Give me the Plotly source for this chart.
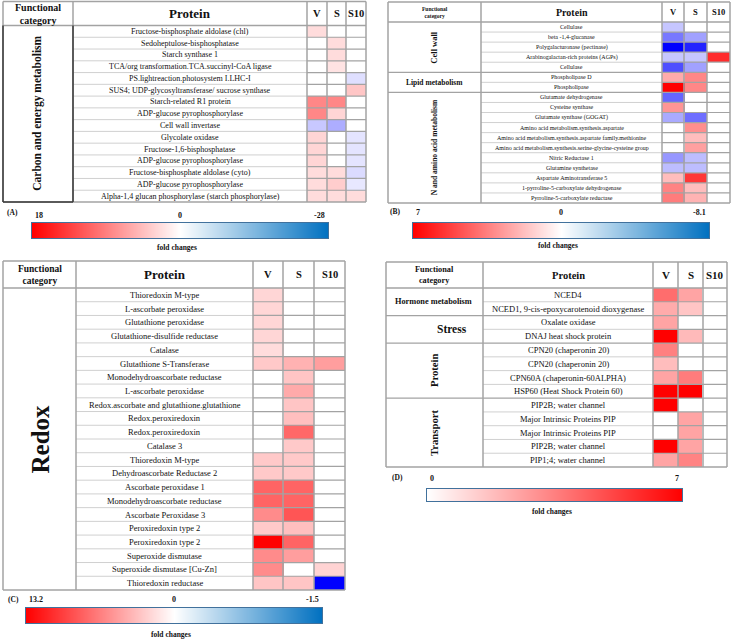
import plotly.graph_objects as go

W, H = 731, 640
SERIF = "Liberation Serif"
MAJOR = "#a3a3a3"
MINOR = "#d0d0d0"

# ---------------- data ----------------
# (A) carbon and energy metabolism
a_proteins = [
    "Fructose-bisphosphate aldolase (chl)", "Sedoheptulose-bisphosphatase", "Starch synthase 1",
    "TCA/org transformation.TCA.succinyl-CoA ligase", "PS.lightreaction.photosystem I.LHC-I",
    "SUS4; UDP-glycosyltransferase/ sucrose synthase", "Starch-related R1 protein",
    "ADP-glucose pyrophosphorylase", "Cell wall invertase", "Glycolate oxidase",
    "Fructose-1,6-bisphosphatase", "ADP-glucose pyrophosphorylase",
    "Fructose-bisphosphate aldolase (cyto)", "ADP-glucose pyrophosphorylase",
    "Alpha-1,4 glucan phosphorylase (starch phosphorylase)",
]
a_v = [2.5, None, None, None, None, None, 8.5, 8.5, -6, 3, 3, 3, 2.5, 2.5, 2.5]
a_s = [None, 2.5, 2.5, 2, None, None, 8.5, 3, -9, None, None, None, 2.5, 3.5, 2.5]
a_s10 = [None, None, None, None, -3.5, 4, None, None, None, -3, -3, -3, -4, -2.5, 2.5]
a_groups = [("Carbon and energy metabolism", 15)]
a_ticks = [18, 0, -28]

# (B) cell wall, lipid, N and amino acid metabolism
b_proteins = [
    "Cellulase", "beta -1,4-glucanase", "Polygalacturonase (pectinase)",
    "Arabinogalactan-rich proteins (AGPs)", "Cellulase", "Phospholipase D", "Phospholipase",
    "Glutamate dehydrogenase", "Cysteine synthase", "Glutamate synthase (GOGAT)",
    "Amino acid metabolism.synthesis.aspartate",
    "Amino acid metabolism.synthesis.aspartate family.methionine",
    "Amino acid metabolism.synthesis.serine-glycine-cysteine group",
    "Nitric Reductase 1", "Glutamine synthetase", "Aspartate Aminotransferase 5",
    "1-pyrroline-5-carboxylate dehydrogenase", "Pyrroline-5-carboxylate reductase",
]
b_v = [-1.8, -4.3, -8.1, -1.8, -5.6, 2.3, 7, -4.9, 2.9, -2.7, None, None, None, -3.3, -2.1, 1.8, 3.4, 3.6]
b_s = [None, -3, -7, -1.8, -3, 3.3, 3.3, None, None, -4.6, 3.1, 1.8, 2.6, -2.1, -2.1, 5.5, 1.8, 2.1]
b_s10 = [None, None, None, 5.8, None, None, None, None, None, None, None, None, None, None, None, None, None, None]
b_groups = [("Cell wall", 5), ("Lipid metabolism", 2), ("N and amino acid metabolism", 11)]
b_ticks = [7, 0, -8.1]

# (C) redox
c_proteins = [
    "Thioredoxin M-type", "L-ascorbate peroxidase", "Glutathione peroxidase",
    "Glutathione-disulfide reductase", "Catalase", "Glutathione S-Transferase",
    "Monodehydroascorbate reductase", "L-ascorbate peroxidase",
    "Redox.ascorbate and glutathione.glutathione", "Redox.peroxiredoxin", "Redox.peroxiredoxin",
    "Catalase 3", "Thioredoxin M-type", "Dehydroascorbate Reductase 2", "Ascorbate peroxidase 1",
    "Monodehydroascorbate reductase", "Ascorbate Peroxidase 3", "Peroxiredoxin type 2",
    "Peroxiredoxin type 2", "Superoxide dismutase", "Superoxide dismutase [Cu-Zn]",
    "Thioredoxin reductase",
]
c_v = [2.1, 2.1, 2.1, 2.1, 1.8, 2.8, None, None, None, None, None, None,
       2.8, 2.8, 8, 8, 6, 2.8, 13.2, 6, 6, 3]
c_s = [None, None, None, None, None, 4, 3, 4.4, 3, 3.3, 7.8, 2.8,
       2.8, 2.8, 8, 8, 8.8, 3.3, 8, 5, None, 3]
c_s10 = [None, None, None, None, None, 5, None, None, None, None, None, None,
         None, None, None, None, None, None, None, None, 2.3, -1.5]
c_groups = [("Redox", 22)]
c_ticks = [13.2, 0, -1.5]

# (D) hormone, stress, protein, transport
d_proteins = [
    "NCED4", "NCED1, 9-cis-epoxycarotenoid dioxygenase", "Oxalate oxidase",
    "DNAJ heat shock protein", "CPN20 (chaperonin 20)", "CPN20 (chaperonin 20)",
    "CPN60A (chaperonin-60ALPHA)", "HSP60 (Heat Shock Protein 60)", "PIP2B; water channel",
    "Major Intrinsic Proteins PIP", "Major Intrinsic Proteins PIP", "PIP2B; water channel",
    "PIP1;4; water channel",
]
d_v = [4, 2.3, 2.5, 7, 3.5, 1.8, 2.5, 7, 7, None, None, 7, 2.5]
d_s = [2.5, 1.6, None, 1.9, None, None, 3.6, 7, None, 2.5, 2.5, 2.5, 3.4]
d_s10 = [None] * 13
d_groups = [("Hormone metabolism", 2), ("Stress", 2), ("Protein", 4), ("Transport", 5)]
d_ticks = [0, 7]

columns = ["V", "S", "S10"]


def px(x):
    return x / W


def py(y):
    return 1 - y / H


def scale(lo, hi, neg):
    if lo >= 0:
        return [[0, "white"], [1, "rgb(255,0,0)"]]
    mid = -lo / (hi - lo)
    return [[0, neg], [mid, "white"], [1, "rgb(255,0,0)"]]


# layout of each panel (pixel positions)
panels = [
    dict(tag="(A)", proteins=a_proteins, vals=(a_v, a_s, a_s10), groups=a_groups, ticks=a_ticks,
         left=3, cat_r=73, cols=[307, 327, 346, 366], top=1.5, head_b=25.5, bottom=202,
         f_prot=8, f_func=10, f_protein=13, f_col=10.5, dark_cat=True,
         grp=[dict(size=11.5, angle=-90, dx=0)],
         bar=(32, 223, 328, 238), tag_xy=(5, 212), tick_y=215, fold_y=247),
    dict(tag="(B)", proteins=b_proteins, vals=(b_v, b_s, b_s10), groups=b_groups, ticks=b_ticks,
         left=388, cat_r=481, cols=[662, 684, 707, 730], top=2, head_b=22, bottom=203,
         f_prot=6, f_func=5.5, f_protein=10, f_col=8.5, dark_cat=False,
         grp=[dict(size=8.5, angle=-90, dx=0), dict(size=7.5, angle=0, dx=0),
              dict(size=7.5, angle=-90, dx=0)],
         bar=(413, 223, 709, 238), tag_xy=(388, 211), tick_y=213, fold_y=245),
    dict(tag="(C)", proteins=c_proteins, vals=(c_v, c_s, c_s10), groups=c_groups, ticks=c_ticks,
         left=3, cat_r=76, cols=[253, 283, 314, 345], top=261, head_b=288, bottom=590,
         f_prot=8.5, f_func=9.5, f_protein=13, f_col=10.5, dark_cat=False,
         grp=[dict(size=25, angle=-90, dx=0)],
         bar=(26, 608, 322, 623), tag_xy=(6, 599), tick_y=599, fold_y=634),
    dict(tag="(D)", proteins=d_proteins, vals=(d_v, d_s, d_s10), groups=d_groups, ticks=d_ticks,
         left=386, cat_r=483, cols=[653, 678, 703, 727], top=262, head_b=288, bottom=467,
         f_prot=8.5, f_func=8.3, f_protein=10.5, f_col=11, dark_cat=False,
         grp=[dict(size=8.3, angle=0, dx=-1), dict(size=11.5, angle=0, dx=18),
              dict(size=10.7, angle=-90, dx=-1), dict(size=10.7, angle=-90, dx=-1)],
         bar=(427, 489, 682, 501), tag_xy=(390, 477), tick_y=478, fold_y=511),
]

fig = go.Figure()
shapes = []
annotations = []


def line(x0, y0, x1, y1, color, w):
    shapes.append(dict(type="line", xref="paper", yref="paper", x0=px(x0), y0=py(y0),
                       x1=px(x1), y1=py(y1), line=dict(color=color, width=w), layer="above"))


def text(s, x, y, size, bold=False, angle=0, xanchor="center", xref="paper", yref="paper"):
    annotations.append(dict(text=s, x=x, y=y, xref=xref, yref=yref, showarrow=False,
                            textangle=angle, xanchor=xanchor, yanchor="middle",
                            font=dict(family=SERIF, size=size, color="#111",
                                      weight="bold" if bold else "normal")))


for k, p in enumerate(panels, start=1):
    n = len(p["proteins"])
    t = p["ticks"]
    hi = max(t[0], t[-1])
    lo = min(t[-1], 0)
    z = [[p["vals"][c][i] for c in range(3)] for i in range(n)]

    # cells
    fig.add_trace(go.Heatmap(
        z=z, x=columns, y=list(range(n)), zmin=lo, zmax=hi,
        colorscale=scale(lo, hi, "rgb(0,0,255)"), showscale=False, hoverongaps=False,
        xaxis=f"x{k}", yaxis=f"y{k}",
    ))
    c0, c3 = p["cols"][0], p["cols"][-1]
    fig.update_layout(**{
        f"xaxis{k}": dict(domain=[px(c0), px(c3)], range=[-0.5, 2.5], visible=False,
                          anchor=f"y{k}", fixedrange=True),
        f"yaxis{k}": dict(domain=[py(p["bottom"]), py(p["head_b"])], range=[n - 0.5, -0.5],
                          visible=False, anchor=f"x{k}", fixedrange=True),
    })

    L, T, B, HB, CR = p["left"], p["top"], p["bottom"], p["head_b"], p["cat_r"]
    rh = (B - HB) / n

    # row lines
    bounds = []
    acc = 0
    for _, cnt in p["groups"]:
        acc += cnt
        bounds.append(acc)
    for i in range(1, n):
        y = HB + i * rh
        if i in bounds:
            line(L, y, c3, y, MAJOR, 1.2)
        else:
            line(CR, y, c0, y, MINOR, 1)
            line(c0, y, c3, y, MAJOR, 1.2)
    # frame and column lines
    line(L, T, c3, T, MAJOR, 1.5)
    line(L, B, c3, B, MAJOR, 1.5)
    line(L, HB, c3, HB, MAJOR, 1.5)
    for x in [L, CR] + p["cols"]:
        line(x, T, x, B, MAJOR, 1.5)
    if p["dark_cat"]:
        line(L, HB, L, B, "#3a3a3a", 1.5)
        line(CR, HB, CR, B, "#3a3a3a", 1.5)
        line(L, B, CR, B, "#3a3a3a", 1.5)

    # header
    hy = py((T + HB) / 2)
    text("Functional<br>category", px((L + CR) / 2), hy, p["f_func"], bold=True)
    text("Protein", px((CR + c0) / 2), hy, p["f_protein"], bold=True)
    for j, name in enumerate(columns):
        text(name, px((p["cols"][j] + p["cols"][j + 1]) / 2), hy, p["f_col"], bold=True)

    # protein names
    for i, name in enumerate(p["proteins"]):
        text(name, px((CR + c0) / 2), i, p["f_prot"], xref="paper", yref=f"y{k}")

    # functional categories
    start = 0
    for (name, cnt), g in zip(p["groups"], p["grp"]):
        mid = start + (cnt - 1) / 2
        text(name, px((L + CR) / 2 + g["dx"]), mid, g["size"], bold=True, angle=g["angle"],
             yref=f"y{k}")
        start += cnt

    # colour key
    kk = k + 4
    x0, y0, x1, y1 = p["bar"]
    fig.add_trace(go.Heatmap(
        z=[t], x=list(range(len(t))), y=[0], zsmooth="best",
        zmin=lo, zmax=hi, colorscale=scale(lo, hi, "rgb(0,112,192)"),
        showscale=False, hoverinfo="skip", xaxis=f"x{kk}", yaxis=f"y{kk}",
    ))
    fig.update_layout(**{
        f"xaxis{kk}": dict(domain=[px(x0), px(x1)], range=[0, len(t) - 1], showticklabels=False,
                           ticks="", showgrid=False, zeroline=False, showline=True, mirror=True,
                           linecolor="rgb(65,113,156)", linewidth=1,
                           anchor=f"y{kk}", fixedrange=True),
        f"yaxis{kk}": dict(domain=[py(y1), py(y0)], range=[-0.5, 0.5], showticklabels=False,
                           ticks="", showgrid=False, zeroline=False, showline=True, mirror=True,
                           linecolor="rgb(65,113,156)", linewidth=1, anchor=f"x{kk}",
                           fixedrange=True),
    })
    for j, v in enumerate(t):
        anchor = "left" if j == 0 else ("right" if j == len(t) - 1 else "center")
        annotations.append(dict(
            text=f"{v:g}", x=j, y=py(p["tick_y"]), xref=f"x{kk}", yref="paper",
            xanchor=anchor, yanchor="middle", showarrow=False, xshift=1 if j == 0 else (-1 if anchor == "right" else 0),
            font=dict(family=SERIF, size=8, color="#111", weight="bold"),
        ))
    text(p["tag"], px(p["tag_xy"][0]), py(p["tag_xy"][1]), 7.5, bold=True, xanchor="left")
    text("fold changes", px((x0 + x1) / 2 - 3), py(p["fold_y"]), 7.5, bold=True)

fig.update_layout(
    width=W, height=H, margin=dict(l=0, r=0, t=0, b=0),
    paper_bgcolor="white", plot_bgcolor="rgba(0,0,0,0)",
    showlegend=False, shapes=shapes, annotations=annotations,
)

fig.write_html("out.html", config={"displayModeBar": False},
               post_script="document.body.style.margin='0';")
